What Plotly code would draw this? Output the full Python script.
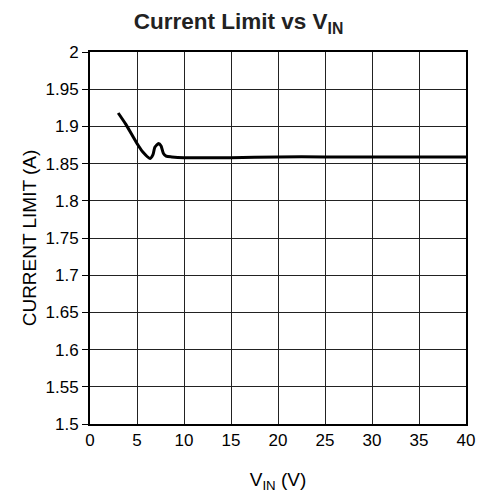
import plotly.graph_objects as go

vin = [3.0, 3.8, 5.0, 5.6, 6.4, 6.7, 6.9, 7.3, 7.55, 7.8, 8.1, 8.7, 10, 15, 20, 25, 30, 35, 40]
ilim = [1.918, 1.903, 1.877, 1.866, 1.857, 1.862, 1.872, 1.877, 1.874, 1.864, 1.860, 1.859,
        1.858, 1.858, 1.859, 1.859, 1.859, 1.859, 1.859]
xticks = [0, 5, 10, 15, 20, 25, 30, 35, 40]
yticks = [1.5, 1.55, 1.6, 1.65, 1.7, 1.75, 1.8, 1.85, 1.9, 1.95, 2]
ytick_text = ["1.5", "1.55", "1.6", "1.65", "1.7", "1.75", "1.8", "1.85", "1.9", "1.95", "2"]

fig = go.Figure(go.Scatter(x=vin, y=ilim, mode="lines",
                           line=dict(color="black", width=3, shape="spline", smoothing=0.6)))

font = "Liberation Sans, Arial, sans-serif"
W, H = 477, 499
fig.update_layout(
    width=W, height=H,
    margin=dict(l=90, r=11, t=52, b=75, autoexpand=False),
    paper_bgcolor="white", plot_bgcolor="white",
    font=dict(family=font, color="black", size=17),
    showlegend=False,
    title=dict(text="<b>Current Limit vs V<sub>IN</sub></b>", x=0.5, xref="container", xanchor="center",
               y=1 - 21 / H, yanchor="middle", yref="container",
               font=dict(size=22.5, family=font, color="#222")),
)
fig.update_xaxes(range=[0, 40], tickvals=xticks, ticks="", showgrid=True, gridcolor="#222", gridwidth=1,
                 showline=True, linecolor="black", linewidth=2, mirror=True, zeroline=False,
                 automargin=False, ticklabeloverflow="allow",
                 title=dict(text="V<sub>IN</sub> (V)", standoff=23, font=dict(size=19)),
                 tickfont=dict(size=17))
fig.update_yaxes(range=[1.5, 2], tickvals=yticks, ticktext=ytick_text, ticks="outside", ticklen=6,
                 tickcolor="black", showgrid=True, gridcolor="#222", gridwidth=1,
                 showline=True, linecolor="black", linewidth=2, mirror=True, zeroline=False,
                 automargin=False, ticklabeloverflow="allow",
                 title=dict(text="CURRENT LIMIT (A)", standoff=4, font=dict(size=19)),
                 tickfont=dict(size=17))
fig.write_html("out.html", config={"displayModeBar": False},
               post_script="document.body.style.margin='0';document.body.style.overflow='hidden';")
